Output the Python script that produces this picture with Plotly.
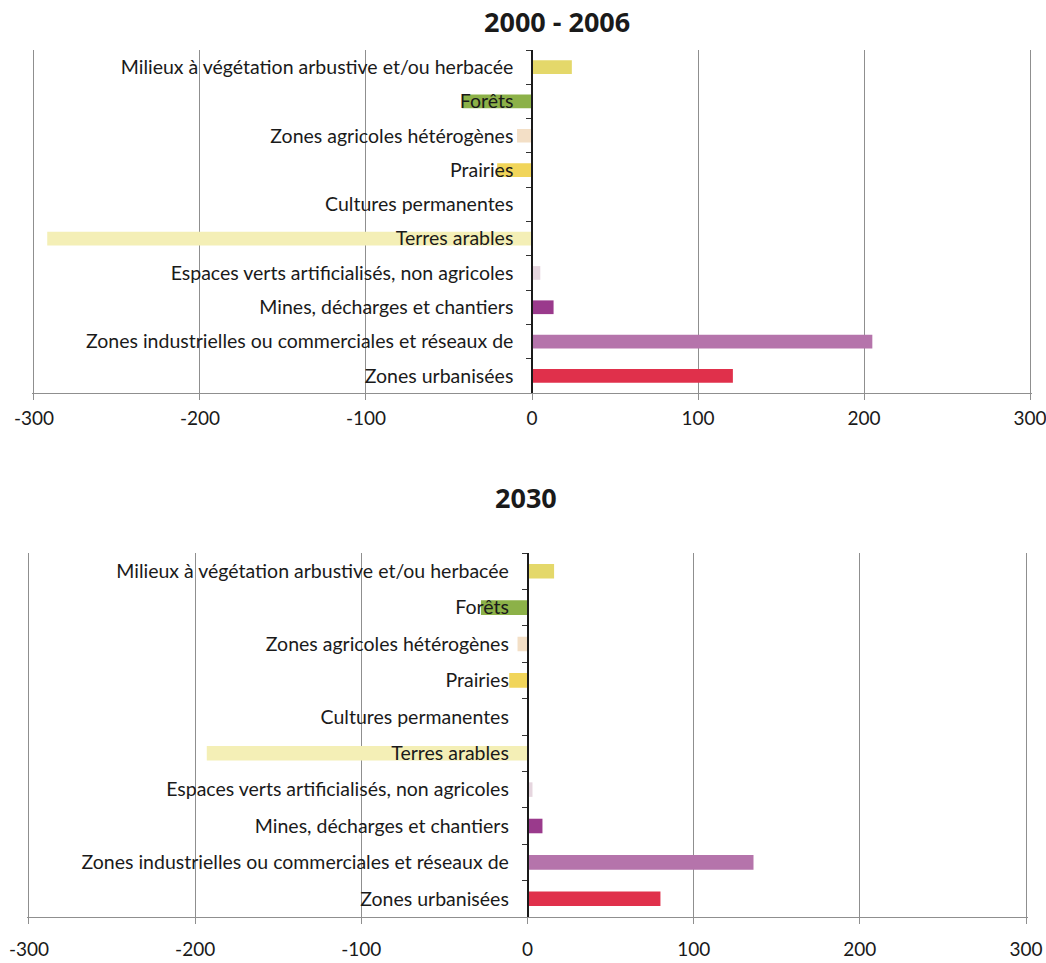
import plotly.graph_objects as go

categories = [
    "Milieux à végétation arbustive et/ou herbacée",
    "Forêts",
    "Zones agricoles hétérogènes",
    "Prairies",
    "Cultures permanentes",
    "Terres arables",
    "Espaces verts artificialisés, non agricoles",
    "Mines, décharges et chantiers",
    "Zones industrielles ou commerciales et réseaux de",
    "Zones urbanisées",
]
values_2000_2006 = [24, -42, -9, -21, 0, -292, 5, 13, 205, 121]
values_2030 = [16, -28, -6, -11, 0, -193, 3, 9, 136, 80]
bar_colors = ["#e4d86a", "#8cb148", "#f3dfc6", "#f1d55a", "#e8e0a8",
              "#f4efb6", "#e6d6df", "#9a3a8c", "#b574ab", "#e0304b"]
titles = ["2000 - 2006", "2030"]
tick_values = [-300, -200, -100, 0, 100, 200, 300]
tick_labels = ["-300", "-200", "-100", "0", "100", "200", "300"]

FONT = "Lato"
TITLE_FONT = "Open Sans"
fig = go.Figure()

fig.add_trace(go.Bar(y=categories, x=values_2000_2006, orientation="h",
                     marker=dict(color=bar_colors, line=dict(width=0)),
                     xaxis="x", yaxis="y", showlegend=False))
fig.add_trace(go.Bar(y=categories, x=values_2030, orientation="h",
                     marker=dict(color=bar_colors, line=dict(width=0)),
                     xaxis="x2", yaxis="y2", showlegend=False))

# domains include a small pad so the +/-300 gridlines sit inside the plot area
top_dom = [32.3 / 1046, 1031.7 / 1046]
bot_dom = [27.3 / 1046, 1027.7 / 1046]

def xaxis(dom, anchor, standoff):
    return dict(domain=dom, anchor=anchor, range=[-301, 301],
                tickvals=tick_values, ticktext=tick_labels, automargin=False,
                ticklabeloverflow="allow",
                showgrid=True, gridcolor="#8f8f8f", gridwidth=1, zeroline=False,
                showline=True, linecolor="#8f8f8f", linewidth=1,
                ticks="outside", ticklen=6, tickcolor="#8f8f8f",
                ticklabelstandoff=standoff,
                tickfont=dict(family=FONT, size=19, color="#1a1a1a"))

def yaxis(dom, pos):
    return dict(domain=dom, anchor="free", position=pos, autorange="reversed",
                type="category", showgrid=False, zeroline=False, automargin=False,
                showline=True, linecolor="#1a1a1a", linewidth=1.5,
                ticks="outside", tickson="boundaries", ticklen=5, tickcolor="#333333",
                ticklabelstandoff=14,
                tickfont=dict(family=FONT, size=19.5, color="#1a1a1a"))

fig.update_layout(
    width=1046, height=963,
    margin=dict(l=0, r=0, t=0, b=0),
    paper_bgcolor="white", plot_bgcolor="white",
    bargap=0.6,
    xaxis=xaxis(top_dom, "y", 2),
    yaxis=yaxis([1 - 393 / 963, 1 - 50 / 963], (top_dom[0] + top_dom[1]) / 2),
    xaxis2=xaxis(bot_dom, "y2", 9),
    yaxis2=yaxis([1 - 917 / 963, 1 - 553 / 963], (bot_dom[0] + bot_dom[1]) / 2),
    annotations=[
        dict(text="<b>" + titles[0] + "</b>", x=557 / 1046, y=1 - 22 / 963,
             xref="paper", yref="paper", showarrow=False, xanchor="center", yanchor="middle",
             font=dict(family=TITLE_FONT, size=27, color="#1a1a1a")),
        dict(text="<b>" + titles[1] + "</b>", x=526 / 1046, y=1 - 497 / 963,
             xref="paper", yref="paper", showarrow=False, xanchor="center", yanchor="middle",
             font=dict(family=TITLE_FONT, size=27, color="#1a1a1a")),
    ],
)

fig.write_html("out.html")
